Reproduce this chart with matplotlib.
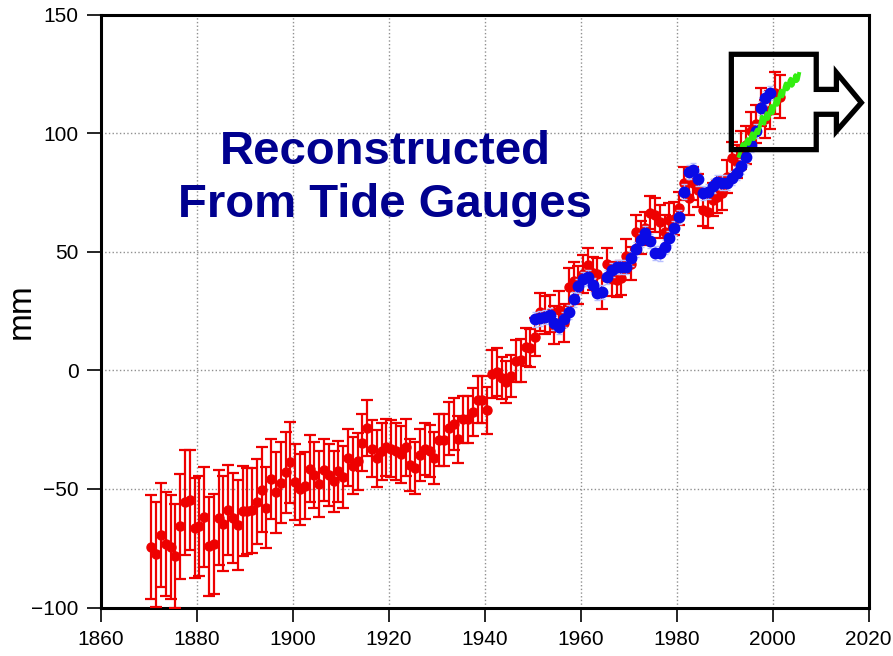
import numpy as np
import matplotlib
matplotlib.use("Agg")
import matplotlib.pyplot as plt
from matplotlib.patches import Polygon

# annual reconstruction from tide gauges, 1870-2001 (mm)
red_years = np.arange(1870, 2002) + 0.5
red_mm = [
    -74.5, -77.6, -69.3, -73.1, -74.5, -78.3, -65.8, -55.7, -54.6, -66.4,   # 1870s
    -65.7, -61.9, -74.2, -73.1, -62.1, -64.7, -58.8, -62.1, -65.2, -59.3,   # 1880s
    -59.3, -59.0, -55.4, -50.3, -57.9, -45.8, -51.4, -47.4, -43.0, -38.8,   # 1890s
    -47.2, -50.2, -48.6, -41.4, -44.2, -48.0, -41.9, -44.0, -46.8, -42.6,   # 1900s
    -45.0, -36.8, -40.2, -38.3, -30.6, -24.3, -33.0, -37.1, -34.1, -32.4,   # 1910s
    -33.0, -34.1, -35.4, -32.4, -40.0, -41.0, -35.8, -33.3, -34.0, -37.1,   # 1920s
    -29.5, -29.5, -24.5, -22.7, -29.1, -20.7, -20.7, -17.5, -12.3, -12.3,   # 1930s
    -16.8, -1.6, -0.6, -3.2, -4.9, -2.4, 3.9, 4.3, 9.7, 9.5,                # 1940s
    14.2, 24.7, 23.5, 24.0, 19.0, 25.5, 20.0, 35.3, 37.5, 36.0,             # 1950s
    40.5, 44.5, 41.0, 40.5, 33.0, 44.8, 38.5, 38.0, 39.0, 48.2,             # 1960s
    45.0, 58.5, 56.0, 60.0, 66.5, 65.5, 62.7, 58.5, 63.4, 64.0,             # 1970s
    68.4, 78.9, 72.6, 78.9, 76.0, 67.7, 66.9, 71.9, 73.3, 74.7,             # 1980s
    81.7, 89.5, 88.0, 93.0, 95.0, 101.0, 104.0, 111.0, 106.0, 110.0,        # 1990s
    117.0, 115.5,                                                           # 2000s
]
red_err = [
    22, 22, 22, 22, 22, 22, 22, 22, 21, 21,
    21, 21, 21, 21, 20, 20, 19, 19, 19, 19,
    18, 18, 18, 18, 17, 17, 17, 17, 17, 17,
    16, 15, 14, 14, 14, 14, 13, 13, 13, 13,
    13, 12, 12, 12, 12, 12, 12, 12, 12, 12,
    12, 12, 12, 12, 11, 11, 11, 11, 11, 11,
    11, 11, 11, 11, 10, 10, 10, 10, 10, 10,
    10, 10, 10, 9, 9, 9, 9, 9, 8, 8,
    8, 8, 8, 8, 8, 8, 8, 8, 8, 8,
    8, 7, 7, 7, 7, 7, 7, 7, 7, 7,
    7, 7, 7, 7, 7, 7, 7, 7, 7, 7,
    7, 7, 7, 7, 7, 7, 7, 7, 7, 7,
    7, 7, 7, 8, 8, 8, 8, 8, 8, 8,
    9, 9,
]

# second reconstruction, 1950-1999 (mm)
blue_years = np.arange(1950, 2000) + 0.5
blue_mm = [
    21.5, 21.9, 22.6, 23.3, 20.1, 18.4, 21.5, 24.7, 29.9, 35.6,
    38.4, 39.2, 36.0, 32.5, 33.2, 39.5, 42.3, 43.7, 43.5, 43.5,
    47.2, 51.0, 55.0, 57.8, 54.7, 49.4, 49.3, 51.9, 55.7, 59.9,
    64.6, 75.4, 83.8, 84.5, 80.6, 74.7, 75.4, 77.8, 79.6, 79.2,
    79.2, 81.0, 83.1, 86.0, 90.0, 95.0, 101.0, 110.6, 115.0, 117.0,
]
blue_err = 3.0

# satellite altimetry, quarterly 1993-2005.5 (mm)
sat_time = np.arange(1993.0, 2005.51, 0.25)
sat_mm = [
    90.5, 92.0, 94.0, 95.5, 93.0, 94.5, 96.5, 97.5, 95.5, 96.5,
    99.0, 100.0, 97.5, 98.0, 100.5, 101.5, 100.0, 102.0, 104.5, 107.0,
    105.0, 104.0, 106.5, 108.5, 106.0, 107.0, 110.0, 111.5, 108.5, 110.0,
    113.0, 114.5, 112.0, 113.5, 116.5, 118.0, 115.5, 116.5, 119.5, 121.0,
    118.5, 119.0, 122.0, 123.0, 120.0, 120.5, 123.0, 124.5, 122.0, 122.5,
    125.0,
]

tick_font = ['Liberation Sans Narrow', 'Liberation Sans', 'DejaVu Sans']

fig = plt.figure(figsize=(8.93, 6.56), dpi=100)
ax = fig.add_axes([0.1131, 0.0739, 0.8595, 0.9037])

ax.errorbar(red_years, red_mm, yerr=red_err, fmt='o', color='#ee0000',
            ms=6.5, elinewidth=1.6, capsize=4, capthick=1.6, zorder=3)
ax.errorbar(blue_years, blue_mm, yerr=blue_err, fmt='o', color='#0a0ae6',
            ecolor='#b8c0ff', ms=7.5, elinewidth=1.0, capsize=2.5, zorder=4)
ax.plot(sat_time, sat_mm, color='#33ee11', lw=2.8, zorder=5)

ax.set_xlim(1860, 2020)
ax.set_ylim(-100, 150)
ax.set_xticks(range(1860, 2021, 20))
ax.set_yticks(range(-100, 151, 50))
ax.grid(True, color='#909090', linestyle=':', linewidth=1.0)
ax.set_axisbelow(True)

for side in ax.spines.values():
    side.set_linewidth(2.2)
ax.tick_params(direction='out', length=10, width=1.2, pad=6)
for lab in ax.get_xticklabels() + ax.get_yticklabels():
    lab.set_family(tick_font)
    lab.set_fontsize(15)

ax.set_ylabel('mm', fontsize=24, family='Liberation Sans')
ax.yaxis.set_label_coords(-0.084, 0.5)

ax.text(1919.2, 81, 'Reconstructed\nFrom Tide Gauges', ha='center', va='center',
        fontsize=34, fontweight='bold', color='#00008f', family='Liberation Sans',
        linespacing=1.25, zorder=6)

# callout box with arrow pointing to the right edge
outline = [(1991.4, 133.3), (2009.1, 133.3), (2009.1, 118.5), (2013.3, 118.5),
           (2013.3, 125.6), (2018.5, 112.9), (2013.3, 100.9), (2013.3, 108.0),
           (2009.1, 108.0), (2009.1, 93.1), (1991.4, 93.1)]
ax.add_patch(Polygon(outline, closed=True, fill=False, edgecolor='black',
                     linewidth=3.8, joinstyle='miter', zorder=7, clip_on=False))

fig.savefig('out.png', dpi=100)
